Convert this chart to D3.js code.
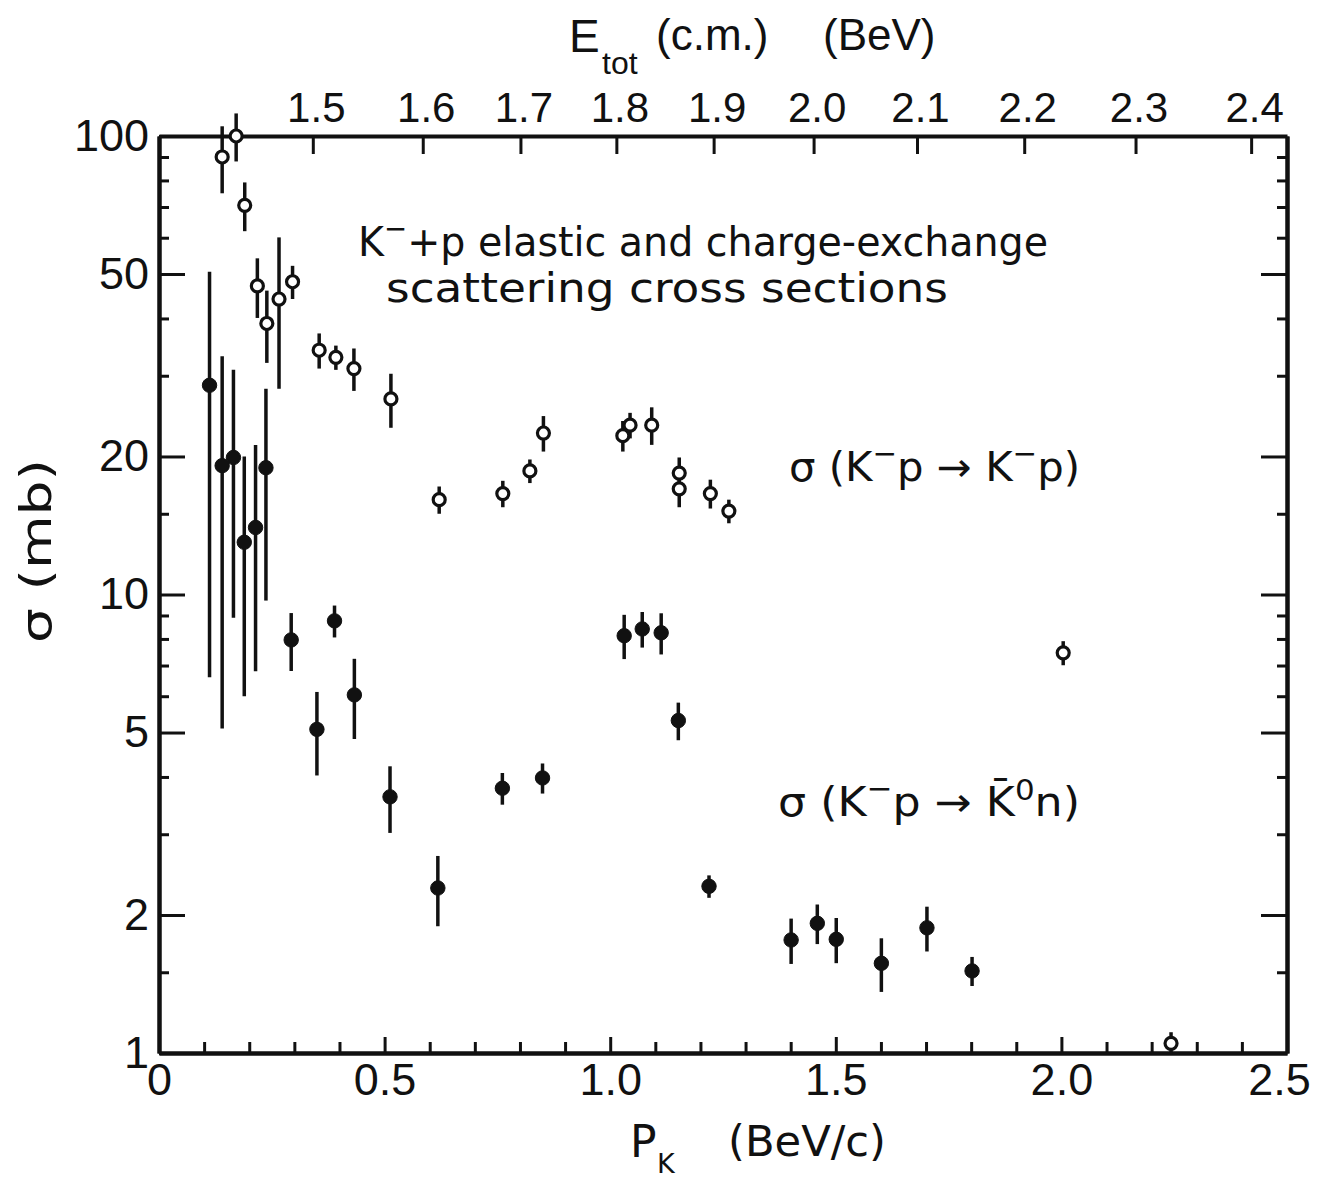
<!DOCTYPE html>
<html>
<head>
<meta charset="utf-8">
<script src="https://cdn.jsdelivr.net/npm/d3@7"></script>
<style>
  body { margin: 0; background: #fff; }
  svg { display: block; }
  .frame path.domain { stroke: #111; stroke-width: 4; }
  .tick line { stroke: #111; stroke-width: 3; }
</style>
</head>
<body>
<svg id="chart" width="1319" height="1181"></svg>
<script>
// K- p elastic cross section sigma(K-p -> K-p), mb, vs lab momentum P_K (BeV/c)
const elasticP     = [0.140, 0.171, 0.190, 0.218, 0.239, 0.266, 0.296, 0.355, 0.392, 0.432, 0.514, 0.621, 0.762, 0.822, 0.852, 1.028, 1.044, 1.092, 1.153, 1.153, 1.222, 1.263, 2.004, 2.243];
const elasticSigma = [90, 100, 70.6, 47.1, 39.0, 44.1, 48.1, 34.1, 32.9, 31.1, 26.7, 16.1, 16.6, 18.6, 22.5, 22.2, 23.4, 23.4, 18.4, 17.0, 16.6, 15.2, 7.46, 1.05];
const elasticErr   = [15, 12, 8.6, 7, 7, 16, 4, 3, 2, 3.3, 3.6, 1.1, 1.1, 1.1, 2.0, 1.7, 1.5, 2.2, 1.5, 1.5, 1.2, 0.9, 0.45, 0.06];

// Charge-exchange cross section sigma(K-p -> K0bar n), mb
const chexP     = [0.112, 0.140, 0.165, 0.189, 0.214, 0.237, 0.293, 0.389, 0.350, 0.433, 0.512, 0.618, 0.761, 0.850, 1.031, 1.071, 1.113, 1.151, 1.219, 1.401, 1.459, 1.501, 1.601, 1.702, 1.802];
const chexSigma = [28.6, 19.1, 19.9, 13.0, 14.0, 18.9, 7.96, 8.76, 5.08, 6.04, 3.62, 2.29, 3.78, 3.98, 8.13, 8.41, 8.25, 5.31, 2.31, 1.764, 1.918, 1.77, 1.569, 1.875, 1.51];
const chexErr   = [22, 14, 11, 7, 7.2, 9.2, 1.15, 0.7, 1.05, 1.2, 0.6, 0.4, 0.3, 0.3, 0.9, 0.75, 0.85, 0.5, 0.13, 0.2, 0.19, 0.2, 0.21, 0.21, 0.11];

// Axis ticks
const xMajorTicks  = [0, 0.5, 1.0, 1.5, 2.0, 2.5];
const xTickLabels  = ["0", "0.5", "1.0", "1.5", "2.0", "2.5"];
const xMinorTicks  = [0.1,0.2,0.3,0.4,0.6,0.7,0.8,0.9,1.1,1.2,1.3,1.4,1.6,1.7,1.8,1.9,2.1,2.2,2.3,2.4];
const yMajorTicks  = [1, 2, 5, 10, 20, 50, 100];
const yTickLabels  = ["1", "2", "5", "10", "20", "50", "100"];
const yMinorTicks  = [1.5, 3, 4, 6, 7, 8, 9, 15, 30, 40, 60, 70, 80, 90];
const eTicks       = [1.5, 1.6, 1.7, 1.8, 1.9, 2.0, 2.1, 2.2, 2.3, 2.4];
const eTickLabels  = ["1.5", "1.6", "1.7", "1.8", "1.9", "2.0", "2.1", "2.2", "2.3", "2.4"];

// Masses (BeV) for converting total c.m. energy to kaon lab momentum
const mK = 0.4937, mP = 0.9383;
function momentumFromEnergy(E) {
  const eK = (E * E - mK * mK - mP * mP) / (2 * mP);
  return Math.sqrt(eK * eK - mK * mK);
}

const svg = d3.select("#chart");
const L = 159, R = 1287, T = 136, B = 1053;

const x = d3.scaleLinear().domain([0, 2.5]).range([L, R]);
const y = d3.scaleLog().domain([1, 100]).range([B, T]);
// Top energy scale: positions of E_tot ticks via the momentum scale
const xE = d3.scaleLinear().domain(eTicks).range(eTicks.map(E => x(momentumFromEnergy(E))));

const fontNum = '"Liberation Sans", Arial, sans-serif';
const fontNarrow = '"Liberation Sans Narrow", "Liberation Sans", Arial, sans-serif';
const fontText = '"DejaVu Sans", "Liberation Sans", sans-serif';

function styleLabels(g, size, family) {
  g.selectAll("text").attr("font-size", size).attr("font-family", family).attr("fill", "#111");
}

// Bottom axis
svg.append("g").attr("class", "frame").attr("transform", `translate(0,${B})`)
  .call(d3.axisBottom(x).tickValues(xMinorTicks).tickSizeInner(-11).tickSizeOuter(0).tickFormat(""));
const gxb = svg.append("g").attr("class", "frame").attr("transform", `translate(0,${B})`)
  .call(d3.axisBottom(x).tickValues(xMajorTicks).tickSizeInner(-16).tickSizeOuter(0).tickPadding(10)
    .tickFormat((d, i) => xTickLabels[i]));
styleLabels(gxb, 45, fontNum);
gxb.selectAll(".tick text").filter((d, i) => i === xMajorTicks.length - 1).attr("dx", -8);

// Left axis
svg.append("g").attr("class", "frame").attr("transform", `translate(${L},0)`)
  .call(d3.axisLeft(y).tickValues(yMinorTicks).tickSizeInner(-10).tickSizeOuter(0).tickFormat(""));
const gyl = svg.append("g").attr("class", "frame").attr("transform", `translate(${L},0)`)
  .call(d3.axisLeft(y).tickValues(yMajorTicks).tickSizeInner(-26).tickSizeOuter(0).tickPadding(10)
    .tickFormat((d, i) => yTickLabels[i]));
styleLabels(gyl, 45, fontNum);

// Right axis
svg.append("g").attr("class", "frame").attr("transform", `translate(${R},0)`)
  .call(d3.axisRight(y).tickValues(yMinorTicks).tickSizeInner(-10).tickSizeOuter(0).tickFormat(""));
svg.append("g").attr("class", "frame").attr("transform", `translate(${R},0)`)
  .call(d3.axisRight(y).tickValues(yMajorTicks).tickSizeInner(-26).tickSizeOuter(0).tickFormat(""));

// Top axis: total c.m. energy
svg.append("g").attr("class", "frame").attr("transform", `translate(0,${T})`)
  .call(d3.axisTop(x).tickValues([]).tickSizeOuter(0));
const gxt = svg.append("g").attr("class", "frame").attr("transform", `translate(0,${T})`)
  .call(d3.axisTop(xE).tickValues(eTicks).tickSizeInner(-18).tickSizeOuter(0).tickPadding(14)
    .tickFormat((d, i) => eTickLabels[i]));
gxt.select("path.domain").remove();
styleLabels(gxt, 42, fontNarrow);
gxt.selectAll(".tick text").attr("dx", 3);

// Axis titles
const ttl = svg.append("g").attr("fill", "#111").attr("font-family", fontNarrow);
ttl.append("text").attr("x", 569).attr("y", 52).attr("font-size", 46).text("E");
ttl.append("text").attr("x", 602).attr("y", 74).attr("font-size", 32).text("tot");
ttl.append("text").attr("x", 656).attr("y", 50).attr("font-size", 44).text("(c.m.)");
ttl.append("text").attr("x", 823).attr("y", 50).attr("font-size", 44).text("(BeV)");

const btl = svg.append("g").attr("fill", "#111").attr("font-family", fontText);
btl.append("text").attr("x", 630).attr("y", 1157).attr("font-size", 44).text("P");
btl.append("text").attr("x", 657).attr("y", 1173).attr("font-size", 27).text("K");
btl.append("text").attr("x", 728).attr("y", 1156).attr("font-size", 42)
  .attr("textLength", 158).attr("lengthAdjust", "spacingAndGlyphs").text("(BeV/c)");

svg.append("text").attr("transform", "translate(51,643) rotate(-90)")
  .attr("font-family", fontText).attr("font-size", 42).attr("fill", "#111")
  .attr("textLength", 184).attr("lengthAdjust", "spacingAndGlyphs")
  .text("σ  (mb)");

// Annotation
const ann = svg.append("g").attr("fill", "#111").attr("font-family", fontText).attr("font-size", 40);
const l1 = ann.append("text").attr("x", 358).attr("y", 256)
  .attr("textLength", 690).attr("lengthAdjust", "spacingAndGlyphs");
l1.append("tspan").text("K");
l1.append("tspan").attr("dy", -18).attr("font-size", 28).text("−");
l1.append("tspan").attr("dy", 18).text("+p elastic and charge-exchange");
ann.append("text").attr("x", 386).attr("y", 302)
  .attr("textLength", 562).attr("lengthAdjust", "spacingAndGlyphs")
  .text("scattering  cross  sections");

// Series labels
function reactionLabel(yBase, xStart, len, product) {
  const t = ann.append("text").attr("x", xStart).attr("y", yBase)
    .attr("textLength", len).attr("lengthAdjust", "spacingAndGlyphs");
  t.append("tspan").text("σ (K");
  t.append("tspan").attr("dy", -18).attr("font-size", 28).text("−");
  t.append("tspan").attr("dy", 18).text("p → ");
  product(t);
  return t;
}
reactionLabel(481, 789, 291, t => {
  t.append("tspan").text("K");
  t.append("tspan").attr("dy", -18).attr("font-size", 28).text("−");
  t.append("tspan").attr("dy", 18).text("p)");
});
reactionLabel(816, 778, 302, t => {
  t.append("tspan").text("K\u0304");
  t.append("tspan").attr("dy", -16).attr("font-size", 28).text("0");
  t.append("tspan").attr("dy", 16).text("n)");
});

// Data points with error bars
function drawSeries(P, S, E, filled) {
  const data = P.map((p, i) => ({ p, s: S[i], e: E[i] }));
  const g = svg.append("g");
  g.selectAll("line").data(data).join("line")
    .attr("x1", d => x(d.p)).attr("x2", d => x(d.p))
    .attr("y1", d => y(d.s + d.e)).attr("y2", d => y(Math.max(d.s - d.e, 0.5)))
    .attr("stroke", "#111").attr("stroke-width", 3.5);
  g.selectAll("circle").data(data).join("circle")
    .attr("cx", d => x(d.p)).attr("cy", d => y(d.s))
    .attr("r", filled ? 7.2 : 6)
    .attr("fill", filled ? "#111" : "#fff")
    .attr("stroke", "#111").attr("stroke-width", filled ? 1 : 3.2);
}
drawSeries(elasticP, elasticSigma, elasticErr, false);
drawSeries(chexP, chexSigma, chexErr, true);
</script>
</body>
</html>
